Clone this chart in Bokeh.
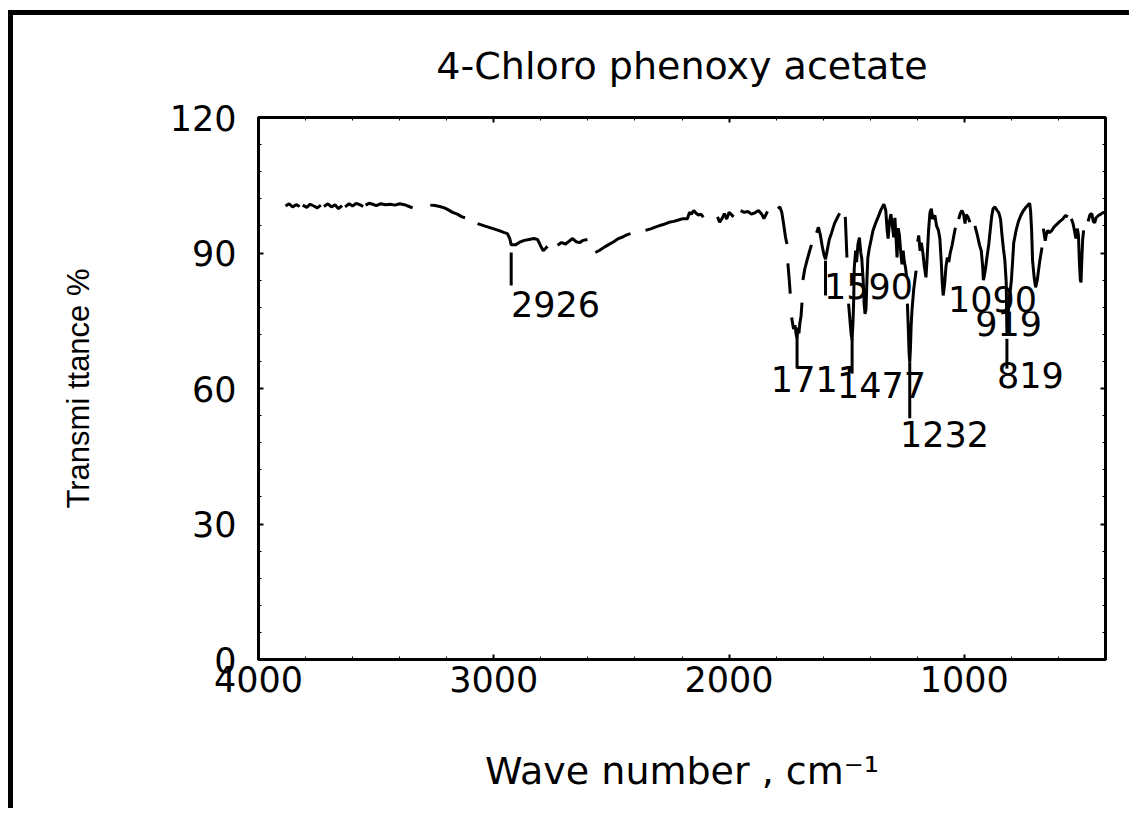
from bokeh.plotting import figure
from bokeh.models import (Range1d, LinearAxis, SingleIntervalTicker, Label, Title,
                          CustomJSTickFormatter)
from bokeh.embed import file_html
from bokeh.resources import INLINE

NAN = float("nan")

# ---- IR spectrum of 4-chloro phenoxy acetate (wave number cm-1, transmittance %) ----
# The recorder trace is broken into pen strokes; each stroke is one segment.
segments = [
    [(3885, 100.4), (3870, 100.9), (3855, 100.2), (3840, 100.7), (3825, 100.3)],
    [(3812, 100.6), (3795, 100.1), (3780, 100.8), (3765, 100.4), (3750, 100.0), (3735, 100.6)],
    [(3722, 100.3), (3705, 100.9), (3690, 100.2), (3675, 100.7), (3660, 99.8), (3645, 100.5)],
    [(3632, 100.2), (3615, 100.9), (3600, 100.4), (3585, 101.0), (3570, 100.7), (3555, 100.3)],
    [(3545, 100.6), (3530, 101.0), (3515, 100.8), (3500, 100.5), (3480, 100.9), (3460, 100.7),
     (3440, 100.8), (3420, 100.6), (3400, 100.9), (3380, 100.7), (3360, 100.3), (3345, 100.0)],
    [(3270, 100.6), (3250, 100.5), (3230, 100.3), (3210, 100.0), (3195, 99.6), (3175, 99.0),
     (3155, 98.6), (3135, 98.0), (3122, 97.8)],
    [(3069, 96.5), (3040, 96.0), (3010, 95.5), (2980, 95.0), (2955, 94.5), (2942, 94.3),
     (2932, 93.2), (2926, 91.8), (2908, 91.8), (2890, 92.4), (2870, 92.8), (2850, 93.0),
     (2830, 93.2), (2814, 93.0), (2800, 91.5), (2790, 90.5), (2780, 91.0), (2772, 91.5)],
    [(2729, 91.7), (2712, 92.3), (2695, 92.0), (2680, 92.6), (2665, 93.2), (2650, 92.5),
     (2635, 92.3), (2620, 92.8), (2602, 93.0)],
    [(2568, 90.1), (2550, 90.6), (2530, 91.3), (2510, 91.9), (2490, 92.5), (2470, 93.2),
     (2450, 93.6), (2435, 94.0), (2419, 94.3)],
    [(2355, 95.0), (2330, 95.4), (2305, 95.9), (2280, 96.3), (2255, 96.8), (2235, 97.0),
     (2215, 97.3), (2195, 97.6), (2177, 97.6), (2168, 99.0), (2160, 98.6), (2150, 99.4),
     (2140, 98.8), (2130, 98.4), (2120, 98.6), (2109, 97.9)],
    [(2049, 98.0), (2040, 96.8), (2030, 97.6), (2020, 98.7), (2010, 97.5), (2000, 99.0),
     (1990, 98.5), (1981, 98.0)],
    [(1951, 99.4), (1935, 99.0), (1920, 99.2), (1905, 98.6), (1890, 98.9), (1875, 99.4),
     (1860, 98.5), (1852, 97.6), (1844, 98.4), (1837, 99.2)],
    [(1792, 99.8), (1784, 100.2), (1776, 99.0), (1768, 96.4), (1760, 93.5), (1754, 92.0)],
    [(1750, 87.7), (1744, 84.0), (1740, 81.0)],
    [(1734, 75.7), (1726, 73.2), (1720, 74.0), (1715, 72.0), (1711, 71.0), (1707, 73.5),
     (1703, 72.2), (1699, 74.5), (1694, 76.0), (1690, 79.0)],
    [(1686, 84.0), (1678, 86.5), (1668, 88.5), (1660, 90.0), (1650, 91.8)],
    [(1628, 94.5), (1620, 95.7), (1612, 94.0), (1604, 91.5), (1596, 89.5), (1590, 88.6),
     (1582, 90.8), (1574, 93.0), (1564, 94.5), (1552, 96.5), (1540, 97.8), (1530, 98.8)],
    [(1506, 98.0), (1502, 93.0), (1499, 89.0)],
    [(1492, 78.8), (1486, 75.0), (1481, 72.0), (1477, 70.8), (1473, 75.0), (1470, 80.0),
     (1468, 86.6), (1462, 90.5), (1458, 88.0), (1452, 92.0), (1446, 93.4), (1440, 90.0),
     (1436, 88.8), (1430, 84.0), (1426, 78.8), (1422, 76.5), (1418, 77.5), (1414, 84.0),
     (1410, 89.0), (1404, 91.0), (1396, 93.0), (1388, 95.0), (1378, 96.5), (1366, 98.0),
     (1354, 99.6), (1342, 100.8), (1334, 99.5), (1328, 95.0), (1324, 93.2), (1318, 97.0),
     (1312, 98.6), (1306, 96.0), (1300, 93.5), (1295, 97.8), (1290, 93.0), (1286, 89.0),
     (1281, 95.5), (1276, 94.0), (1270, 90.0), (1265, 87.5), (1260, 90.5), (1255, 88.0),
     (1250, 86.8), (1246, 85.0)],
    [(1242, 78.8), (1238, 73.0), (1235, 68.0), (1232, 65.8), (1229, 69.0), (1226, 74.0),
     (1222, 77.7), (1215, 82.0), (1205, 86.1)],
    [(1198, 92.5), (1194, 93.9), (1188, 90.5), (1183, 92.3), (1176, 90.0), (1170, 87.0),
     (1163, 84.6), (1158, 89.0), (1152, 95.0), (1146, 99.0), (1140, 99.8), (1135, 97.5),
     (1130, 98.0), (1125, 98.3), (1118, 96.0), (1110, 95.0), (1104, 93.2), (1098, 88.0),
     (1094, 83.5), (1090, 80.6), (1084, 83.0), (1078, 87.0), (1072, 89.0), (1066, 88.0),
     (1060, 90.0), (1052, 91.7), (1044, 94.0), (1038, 95.6)],
    [(1024, 97.5), (1017, 98.8), (1010, 99.4), (1003, 98.6), (997, 96.5), (992, 98.5),
     (985, 98.0), (976, 96.8)],
    [(955, 96.0), (945, 94.0), (935, 91.7), (928, 90.5), (922, 87.0), (919, 84.0),
     (915, 85.0), (910, 86.5), (904, 89.0), (896, 92.0), (890, 95.0), (884, 98.0),
     (878, 99.8), (870, 100.2), (862, 99.5), (854, 99.0), (846, 97.5), (840, 94.0),
     (834, 91.0), (828, 88.5), (822, 83.5), (819, 72.0), (815, 76.0), (808, 80.0),
     (800, 84.0), (795, 88.0), (790, 92.3), (780, 95.0), (770, 97.0), (760, 98.3),
     (750, 99.3), (740, 100.0), (730, 100.6), (722, 101.0), (718, 99.0), (714, 95.0),
     (710, 88.3), (703, 84.5), (697, 82.4), (690, 84.0), (680, 88.0), (670, 91.2)],
    [(664, 95.4), (660, 94.0), (656, 92.7), (652, 94.0), (646, 95.0), (638, 94.5),
     (628, 95.0), (618, 95.8), (606, 96.4), (594, 97.0), (582, 97.5), (570, 98.3), (560, 98.0)],
    [(545, 97.6), (538, 96.5), (532, 95.0), (526, 93.2), (520, 95.4), (515, 94.0),
     (511, 88.0), (507, 84.0), (504, 83.5), (501, 88.0), (497, 93.0), (493, 95.0)],
    [(474, 97.0), (466, 98.5), (458, 98.7), (452, 97.0), (446, 96.7), (440, 97.8),
     (430, 98.3), (420, 98.6), (410, 99.0), (402, 98.8)],
]

# Marked absorption bands: wave number, top and bottom of the marker line
peak_wn = [2926, 1711, 1590, 1477, 1232, 1090, 919, 819]
peak_labels = [str(w) for w in peak_wn]
leader_top = [90.1, 71.0, 88.3, 71.0, 65.8, 80.6, 84.0, 71.0]
leader_bottom = [82.8, 64.6, 80.6, 63.3, 53.4, 80.6, 84.0, 64.4]

y_ticks_step = 30
x_ticks_step = 1000

# label anchors (wave number, transmittance) for the band numbers
label_pos = {
    "2926": (2738, 78.6), "1711": (1633, 62.0), "1590": (1407, 82.6), "1477": (1352, 60.7),
    "1232": (1084, 50.0), "1090": (880, 79.9), "919": (812, 74.6), "819": (719, 62.9),
}

xs, ys = [], []
for seg in segments:
    for w, t in seg:
        xs.append(w)
        ys.append(t)
    xs.append(NAN)
    ys.append(NAN)

FONT = "DejaVu Sans"

# the page frame sits 13 px in from the window's left edge and 15 px from its top
p = figure(width=1121, height=798, output_backend="svg", toolbar_location=None,
           x_range=Range1d(4000, 400), y_range=Range1d(0, 120),
           min_border_left=245, min_border_right=29, min_border_top=102,
           min_border_bottom=154, x_axis_location=None, y_axis_location=None)
p.styles = {"margin-left": "8px", "margin-top": "10px",
            "border-left": "5px solid black", "border-top": "5px solid black"}
p.grid.visible = False
p.outline_line_color = "black"
p.outline_line_width = 3
p.background_fill_color = "white"
p.border_fill_color = "white"

blank = CustomJSTickFormatter(code="return ''")

def style_axis(ax, labels):
    ax.axis_line_width = 3
    ax.axis_line_color = "black"
    ax.major_tick_in = 5
    ax.major_tick_out = 0
    ax.minor_tick_in = 3
    ax.minor_tick_out = 0
    ax.major_tick_line_width = 2
    ax.minor_tick_line_width = 1
    ax.major_label_text_font = FONT
    ax.major_label_text_font_size = "35px"
    ax.major_label_text_color = "black"
    if not labels:
        ax.formatter = blank
        ax.major_label_standoff = 0

yt = SingleIntervalTicker(interval=y_ticks_step, num_minor_ticks=5)
xt = SingleIntervalTicker(interval=x_ticks_step, num_minor_ticks=5)

left = LinearAxis(ticker=yt, axis_label="Transmi ttance %")
style_axis(left, True)
left.major_label_standoff = 22
left.axis_label_text_font = "Liberation Sans"
left.axis_label_text_font_size = "31px"
left.axis_label_text_font_style = "normal"
left.axis_label_text_color = "black"
left.axis_label_standoff = 71

bottom = LinearAxis(ticker=xt, axis_label="Wave number , cm\u207b\u00b9")
style_axis(bottom, True)
bottom.major_label_standoff = 6
bottom.axis_label_text_font = FONT
bottom.axis_label_text_font_size = "38px"
bottom.axis_label_text_font_style = "normal"
bottom.axis_label_text_color = "black"
bottom.axis_label_standoff = 54

right = LinearAxis(ticker=yt)
style_axis(right, False)
top = LinearAxis(ticker=xt)
style_axis(top, False)

p.add_layout(left, "left")
p.add_layout(right, "right")
p.add_layout(bottom, "below")
p.add_layout(top, "above")
p.add_layout(Title(text="4-Chloro phenoxy acetate", align="center", vertical_align="top",
                   text_font=FONT, text_font_size="38px", text_font_style="normal",
                   text_color="black", standoff=55), "above")

# band numbers (under the trace, as on the recorder chart)
order = ["2926", "1711", "1477", "1590", "1232", "919", "1090", "819"]
for lab in order:
    x, y = label_pos[lab]
    kw = {}
    if lab in ("1477", "1090"):
        kw = dict(background_fill_color="white", background_fill_alpha=1.0)
    p.add_layout(Label(x=x, y=y, text=lab, text_align="center", text_baseline="middle",
                       text_font=FONT, text_font_size="35px", text_color="black",
                       level="underlay", **kw))

# spectrum trace
p.line(xs, ys, line_color="black", line_width=3)

# marker lines from the bands to their numbers
p.segment(x0=peak_wn, y0=leader_top, x1=peak_wn, y1=leader_bottom,
          line_color="black", line_width=3)

open("out.html", "w").write(file_html(p, INLINE))
